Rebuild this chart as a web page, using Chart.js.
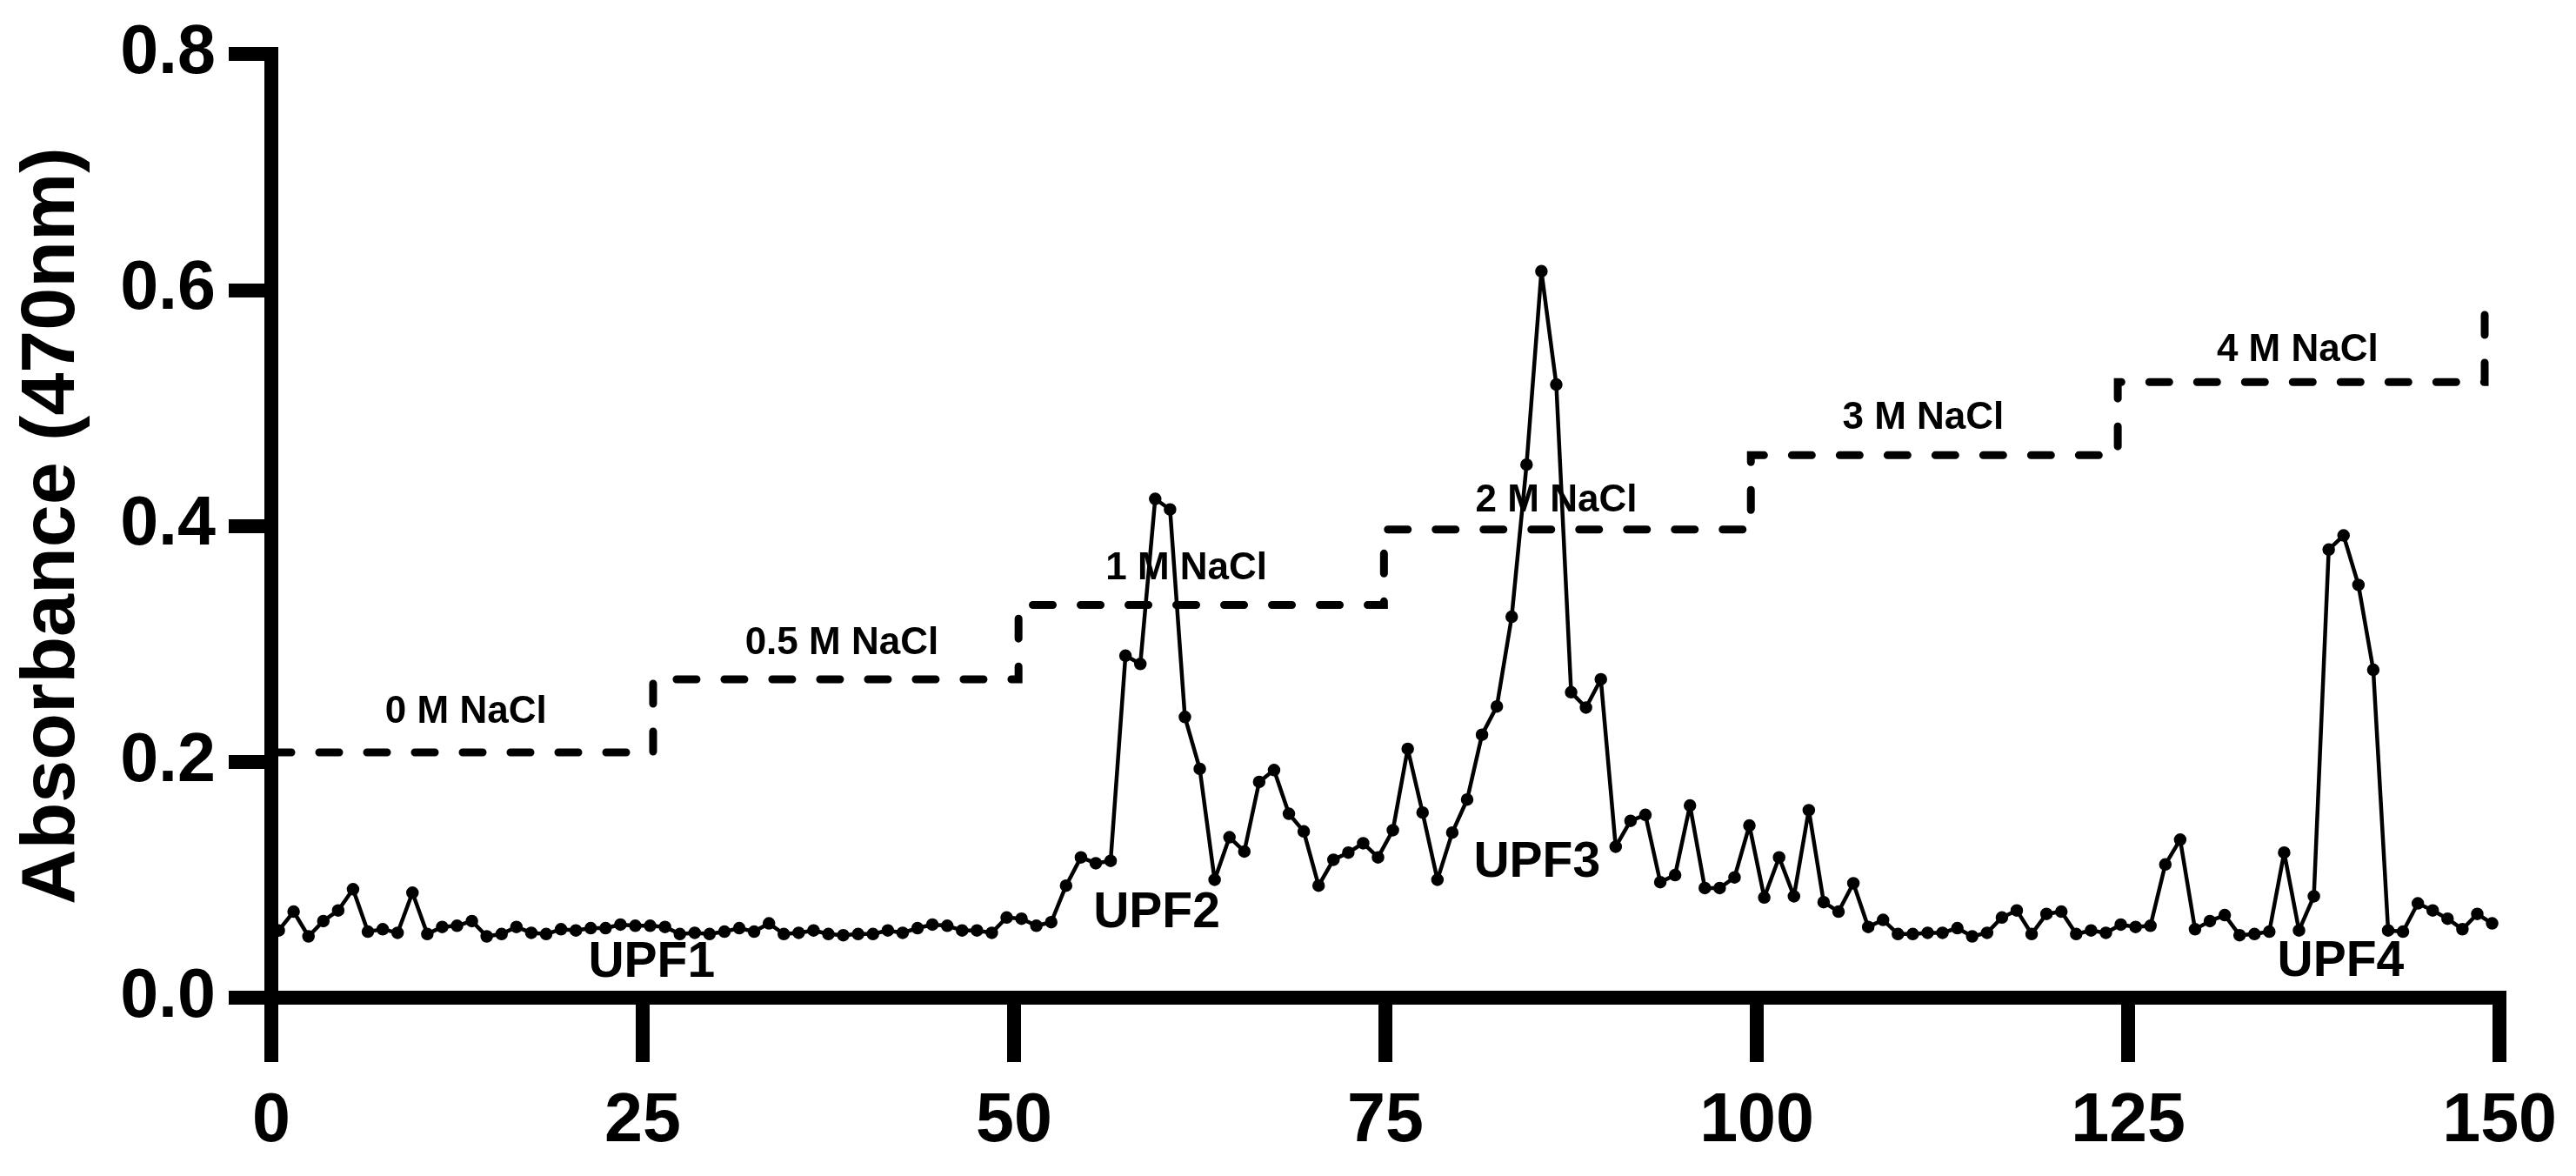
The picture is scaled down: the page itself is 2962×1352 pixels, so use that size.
<!DOCTYPE html>
<html>
<head>
<meta charset="utf-8">
<script src="https://cdn.jsdelivr.net/npm/chart.js@4.4.1/dist/chart.umd.min.js"></script>
<style>
  html, body { margin: 0; padding: 0; background: #fff; }
  canvas { display: block; }
</style>
</head>
<body>
<canvas id="Chart" width="2962" height="1352"></canvas>
<script>
// fraction numbers (tubes 1..150), plotted at tube mid-point
const fractions = Array.from({ length: 150 }, (_, i) => i + 1);

// absorbance at 470 nm
const absorbance = [
  0.057, 0.073, 0.052, 0.065, 0.074, 0.092, 0.056, 0.058, 0.055, 0.089,
  0.054, 0.060, 0.061, 0.065, 0.052, 0.054, 0.060, 0.055, 0.054, 0.058,
  0.057, 0.059, 0.059, 0.062, 0.061, 0.061, 0.060, 0.054, 0.055, 0.054,
  0.056, 0.059, 0.056, 0.063, 0.054, 0.055, 0.057, 0.054, 0.053, 0.054,
  0.054, 0.057, 0.055, 0.059, 0.062, 0.061, 0.057, 0.057, 0.055, 0.068,
  0.067, 0.061, 0.064, 0.095, 0.119, 0.114, 0.116, 0.290, 0.283, 0.423,
  0.414, 0.238, 0.194, 0.100, 0.136, 0.124, 0.183, 0.193, 0.156, 0.141,
  0.095, 0.117, 0.123, 0.131, 0.119, 0.142, 0.211, 0.157, 0.100, 0.140,
  0.168, 0.223, 0.247, 0.323, 0.452, 0.616, 0.520, 0.259, 0.246, 0.270,
  0.128, 0.150, 0.155, 0.098, 0.104, 0.163, 0.093, 0.093, 0.102, 0.146,
  0.085, 0.119, 0.086, 0.159, 0.081, 0.073, 0.097, 0.060, 0.066, 0.054,
  0.054, 0.055, 0.055, 0.059, 0.052, 0.055, 0.068, 0.074, 0.054, 0.071,
  0.073, 0.054, 0.057, 0.055, 0.062, 0.060, 0.061, 0.113, 0.134, 0.058,
  0.065, 0.070, 0.053, 0.054, 0.056, 0.123, 0.057, 0.086, 0.380, 0.392,
  0.350, 0.278, 0.057, 0.056, 0.080, 0.074, 0.067, 0.058, 0.071, 0.063
];

// NaCl step gradient (dashed line)
const stepX = [0, 25.7, 50.3, 74.9, 99.6, 124.3, 149.0];
const stepLevels = [0.208, 0.270, 0.333, 0.397, 0.460, 0.522, 0.586];
const saltLabels = ['0 M NaCl', '0.5 M NaCl', '1 M NaCl', '2 M NaCl', '3 M NaCl', '4 M NaCl'];
const peakLabels = ['UPF1', 'UPF2', 'UPF3', 'UPF4'];

const yTicks = [0, 0.2, 0.4, 0.6, 0.8];
const xTicks = [0, 25, 50, 75, 100, 125, 150];

// where the text annotations sit, in data units
const saltLabelPos = [[13.1, 0.242], [38.4, 0.300], [61.6, 0.364], [86.5, 0.421], [111.2, 0.491], [136.4, 0.549]];
const peakLabelPos = [[25.6, 0.029], [59.6, 0.071], [85.2, 0.114], [139.3, 0.030]];

const FONT = '"Liberation Sans", Arial, Helvetica, sans-serif';

const textPlugin = {
  id: 'textNotes',
  afterDatasetsDraw(chart) {
    const { ctx, scales: { x, y } } = chart;
    ctx.save();
    ctx.fillStyle = '#000';
    ctx.textAlign = 'center';
    ctx.textBaseline = 'middle';
    ctx.font = 'bold 44px ' + FONT;
    saltLabels.forEach((t, i) => {
      ctx.fillText(t, x.getPixelForValue(saltLabelPos[i][0]), y.getPixelForValue(saltLabelPos[i][1]));
    });
    ctx.font = 'bold 57px ' + FONT;
    peakLabels.forEach((t, i) => {
      ctx.fillText(t, x.getPixelForValue(peakLabelPos[i][0]), y.getPixelForValue(peakLabelPos[i][1]));
    });
    ctx.restore();
  }
};

const ctx = document.getElementById('Chart').getContext('2d');
const profileChart = new Chart(ctx, {
  type: 'scatter',
  data: {
    datasets: [
      {
        label: 'Absorbance',
        data: absorbance.map((v, i) => ({ x: fractions[i] - 0.5, y: v })),
        showLine: true,
        borderColor: '#000',
        backgroundColor: '#000',
        borderWidth: 4.5,
        borderJoinStyle: 'round',
        pointRadius: 5,
        pointHoverRadius: 5,
        clip: false
      },
      {
        label: 'NaCl',
        data: stepX.map((v, i) => ({ x: v, y: stepLevels[i] })),
        showLine: true,
        stepped: 'before',   // run flat, then climb to the next level
        borderColor: '#000',
        borderWidth: 9,
        borderCapStyle: 'round',
        borderDash: [23, 32],
        pointRadius: 0,
        pointHoverRadius: 0,
        clip: false
      }
    ]
  },
  options: {
    responsive: false,
    animation: false,
    events: [],
    layout: { padding: { top: 61, right: 81, left: 0, bottom: 0 } },
    plugins: {
      legend: { display: false },
      tooltip: { enabled: false }
    },
    scales: {
      x: {
        type: 'linear',
        min: 0,
        max: 150,
        afterBuildTicks: (s) => { s.ticks = xTicks.map(v => ({ value: v })); },
        afterFit: (s) => { s.height = 205; },
        ticks: {
          color: '#000',
          font: { family: FONT, size: 79, weight: 'bold' },
          padding: 22,
          maxRotation: 0,
          callback: (v) => String(v)
        },
        grid: { drawOnChartArea: false, drawTicks: true, tickLength: 74, lineWidth: 16, color: '#000' },
        border: { display: true, width: 16, color: '#000' }
      },
      y: {
        min: 0,
        max: 0.8,
        afterBuildTicks: (s) => { s.ticks = yTicks.map(v => ({ value: v })); },
        afterFit: (s) => { s.width = 312; },
        ticks: {
          color: '#000',
          font: { family: FONT, size: 79, weight: 'bold' },
          padding: 15,
          callback: (v) => v.toFixed(1)
        },
        grid: { drawOnChartArea: false, drawTicks: true, tickLength: 49, lineWidth: 16, color: '#000' },
        border: { display: true, width: 16, color: '#000' },
        title: {
          display: true,
          text: 'Absorbance (470nm)',
          color: '#000',
          font: { family: FONT, size: 88, weight: 'bold' },
          padding: { top: 8, bottom: 0 }
        }
      }
    }
  },
  plugins: [textPlugin]
});
</script>
</body>
</html>
